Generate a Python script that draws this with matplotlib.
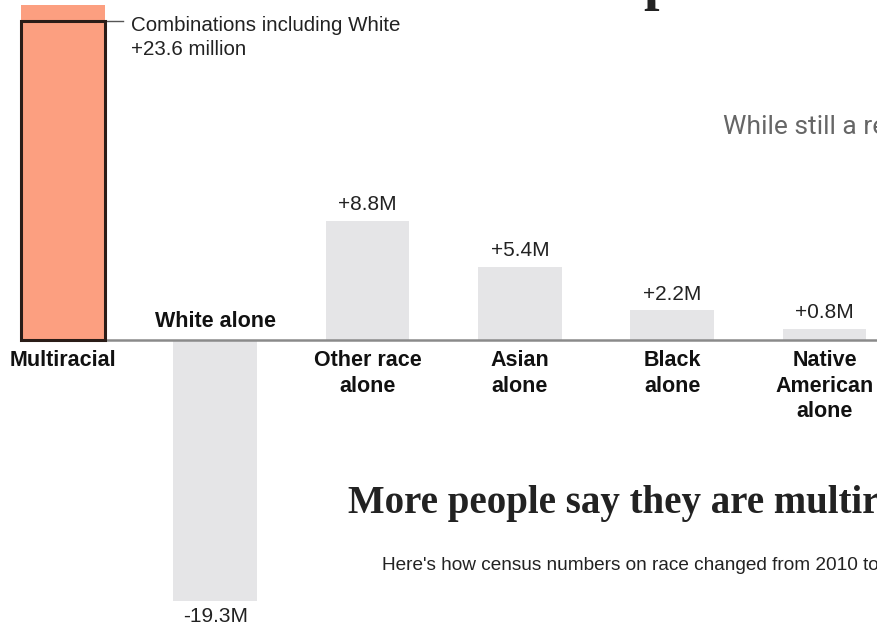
import matplotlib.pyplot as plt

# change in population 2010 -> 2020, millions
categories = ['Multiracial', 'White alone', 'Other race\nalone', 'Asian\nalone',
              'Black\nalone', 'Native\nAmerican\nalone']
changes = [24.8, -19.3, 8.8, 5.4, 2.2, 0.8]
value_labels = ['', '-19.3M', '+8.8M', '+5.4M', '+2.2M', '+0.8M']
white_combo = 23.6
white_combo_label = ['Combinations including White', '+23.6 million']

orange = '#fc9f80'
grey_bar = '#e5e5e7'
dark = '#2a1c17'
txt = '#222222'
label_font = 'Liberation Sans'

fig = plt.figure(figsize=(8.77, 6.26), dpi=100)
ax = fig.add_axes([0, 0, 1, 1])
ax.axis('off')

# pixel layout: bar 0 centred at x=63, spacing 152.3px; baseline at y=340, 13.5px per million
px_per_cat = 152.3
px_per_m = 13.5
ax.set_xlim(-63 / px_per_cat, (877 - 63) / px_per_cat)
ax.set_ylim(-(626 - 340) / px_per_m, 340 / px_per_m)

w = 0.55
x = list(range(len(categories)))
colors = [orange] + [grey_bar] * (len(categories) - 1)
ax.bar(x, changes, width=w, color=colors, zorder=1)
# outline for combinations including white
ax.bar(0, white_combo, width=w, fill=False, edgecolor=dark, linewidth=2.2, zorder=3)

# baseline
ax.plot([-w / 2, ax.get_xlim()[1]], [0, 0], color='#8a8a8a', lw=1.8, zorder=2,
        solid_capstyle='butt')

# annotation for white combos
ax.plot([w / 2, w / 2 + 18 / px_per_cat], [white_combo, white_combo], color='#555555', lw=1)
ax.text(w / 2 + 26 / px_per_cat, white_combo - 0.3, white_combo_label[0], ha='left',
        va='center', fontsize=14.8, family=label_font, color=txt)
ax.text(w / 2 + 26 / px_per_cat, white_combo - 2.05, white_combo_label[1], ha='left',
        va='center', fontsize=14.8, family=label_font, color=txt)

for i, (cat, v, lab) in enumerate(zip(categories, changes, value_labels)):
    if v >= 0:
        ax.text(i, -0.75, cat, ha='center', va='top', fontsize=15.5, fontweight='bold',
                family=label_font, color='#111111', linespacing=1.28)
        if lab:
            ax.text(i, v + 0.5, lab, ha='center', va='bottom', fontsize=15,
                    family=label_font, color=txt)
    else:
        ax.text(i, 0.6, cat, ha='center', va='bottom', fontsize=15.5, fontweight='bold',
                family=label_font, color='#111111')
        ax.text(i, v - 0.45, lab, ha='center', va='top', fontsize=15,
                family=label_font, color=txt)

# overlapping page text from the article, cut off at the right edge
fig.text(723 / 877, 1 - 127 / 626, 'While still a re',
         ha='left', va='center', fontsize=19, family='Roboto', color='#666666')
fig.text(348 / 877, 1 - 503 / 626, 'More people say they are multir',
         ha='left', va='center', fontsize=28, family='Liberation Serif', fontweight='bold',
         color='#222222')
fig.text(382 / 877, 1 - 566 / 626, "Here's how census numbers on race changed from 2010 to",
         ha='left', va='center', fontsize=13.7, family=label_font, color=txt)
fig.text(643 / 877, 1 + 1 / 626, 'p', ha='left', va='baseline', fontsize=40,
         family='Liberation Serif', fontweight='bold', color='#222222')

fig.savefig('out.png', dpi=100)
